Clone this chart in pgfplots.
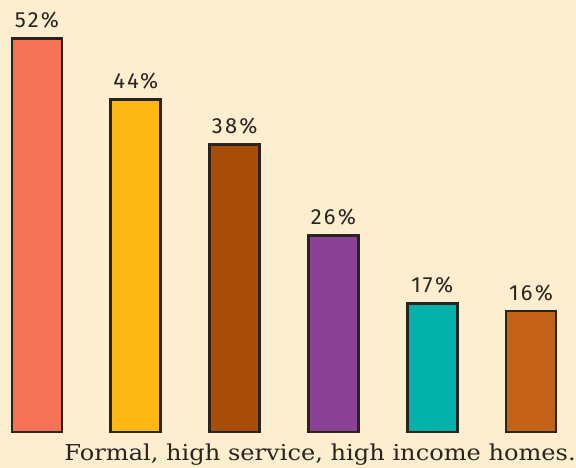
\documentclass[border=0pt]{standalone}
\usepackage{pgfplots}
\pgfplotsset{compat=1.18}
\usepackage{fontspec}
\setmainfont{DejaVu Serif}
\newfontfamily\labfont[LetterSpace=10]{Fira Sans}
\definecolor{bgc}{RGB}{254,238,208}
\definecolor{edge}{RGB}{42,36,32}
\definecolor{c1}{RGB}{244,114,85}
\definecolor{c2}{RGB}{253,184,19}
\definecolor{c3}{RGB}{168,77,10}
\definecolor{c4}{RGB}{139,66,149}
\definecolor{c5}{RGB}{0,178,170}
\definecolor{c6}{RGB}{196,99,24}
\begin{document}
\begin{tikzpicture}
\fill[bgc] (0,-36bp) rectangle (576bp,432bp);
\useasboundingbox (0,-36bp) rectangle (576bp,432bp);
\begin{axis}[
  at={(0,0)}, anchor=south west,
  scale only axis, width=576bp, height=432bp,
  xmin=-0.3745, xmax=5.455, ymin=0, ymax=57.14,
  hide axis, clip=false,
  /pgf/number format/assume math mode=true,
  every axis plot/.append style={ybar, bar width=50bp, bar shift=0pt, draw=edge, line width=2.8bp,
    nodes near coords={\pgfmathprintnumber{\pgfplotspointmeta}\%},
    every node near coord/.append style={font=\labfont\fontsize{22}{22}\selectfont, text=edge, anchor=base, yshift=11bp, inner sep=0pt}},
]
\addplot[fill=c1] coordinates {(0,52)};
\addplot[fill=c2] coordinates {(1,44)};
\addplot[fill=c3] coordinates {(2,38)};
\addplot[fill=c4] coordinates {(3,26)};
\addplot[fill=c5] coordinates {(4,17)};
\addplot[fill=c6] coordinates {(5,16)};
\end{axis}
\node[anchor=base east, inner sep=0pt, text=edge, font=\fontsize{22}{22}\selectfont, xscale=1.1] at (576bp,-28bp) {Formal, high service, high income homes.};
\end{tikzpicture}
\end{document}
